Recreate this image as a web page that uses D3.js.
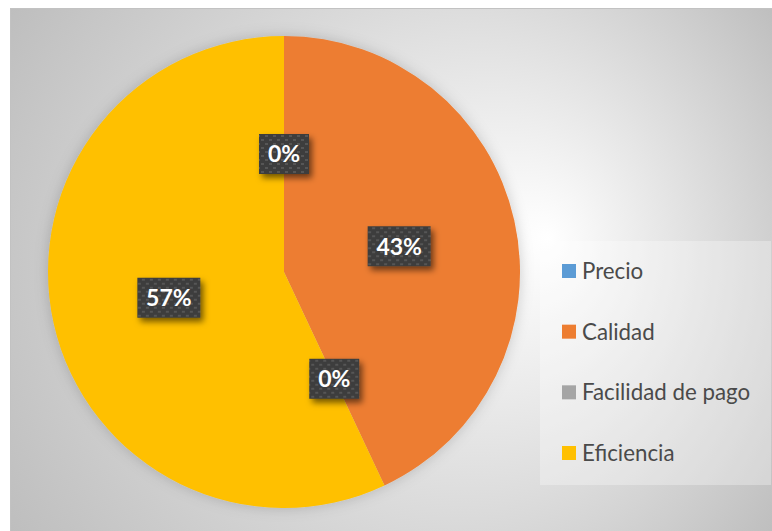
<!DOCTYPE html>
<html>
<head>
<meta charset="utf-8">
<script src="https://cdn.jsdelivr.net/npm/d3@7"></script>
<style>
  html, body { margin: 0; padding: 0; background: #ffffff; }
  svg { display: block; }
</style>
</head>
<body>
<svg id="chart" width="772" height="531"></svg>
<script>
// Survey result: share of answers per attribute
const categories = ["Precio", "Calidad", "Facilidad de pago", "Eficiencia"];
const values = [0, 43, 0, 57];
const colors = ["#5B9BD5", "#ED7D31", "#A5A5A5", "#FFC000"];

const W = 772, H = 531;
const svg = d3.select("#chart");
const defs = svg.append("defs");

// Background: radial gradient, bright spot right of the pie
const bg = defs.append("radialGradient")
  .attr("id", "bgGrad")
  .attr("gradientUnits", "userSpaceOnUse")
  .attr("cx", 391).attr("cy", 270).attr("r", 470)
  .attr("fx", 548).attr("fy", 238);
bg.append("stop").attr("offset", 0).attr("stop-color", "#ffffff");
bg.append("stop").attr("offset", 1).attr("stop-color", "#bdbdbd");

// Dotted dark fill for the value labels
const pat = defs.append("pattern")
  .attr("id", "dots")
  .attr("patternUnits", "userSpaceOnUse")
  .attr("width", 8).attr("height", 8);
pat.append("rect").attr("width", 8).attr("height", 8).attr("fill", "#3d3d3d");
pat.append("rect").attr("x", 1).attr("y", 1).attr("width", 3).attr("height", 2).attr("fill", "#565656");
pat.append("rect").attr("x", 5).attr("y", 5).attr("width", 3).attr("height", 2).attr("fill", "#565656");

// Soft drop shadow for label boxes
const sh = defs.append("filter").attr("id", "lblShadow")
  .attr("x", "-30%").attr("y", "-30%").attr("width", "170%").attr("height", "180%");
sh.append("feDropShadow").attr("dx", 3).attr("dy", 4).attr("stdDeviation", 3)
  .attr("flood-color", "#000").attr("flood-opacity", 0.55);

// Faint halo around the pie
const halo = defs.append("filter").attr("id", "pieHalo")
  .attr("x", "-20%").attr("y", "-20%").attr("width", "140%").attr("height", "140%");
halo.append("feDropShadow").attr("dx", 0).attr("dy", 0).attr("stdDeviation", 7)
  .attr("flood-color", "#000").attr("flood-opacity", 0.18);

// Chart area
svg.append("rect")
  .attr("x", 10.5).attr("y", 8.5).attr("width", W).attr("height", H)
  .attr("fill", "url(#bgGrad)")
  .attr("stroke", "#c2c2c2").attr("stroke-width", 1);

// Pie
const cx = 284, cy = 272, R = 236;
const pie = d3.pie().sort(null).value(d => d.value);
const arcs = pie(categories.map((c, i) => ({ name: c, value: values[i], color: colors[i] })));
const arc = d3.arc().innerRadius(0).outerRadius(R);
const labelArc = d3.arc().innerRadius(0).outerRadius(R);

const g = svg.append("g").attr("transform", `translate(${cx},${cy})`);
g.append("g").attr("filter", "url(#pieHalo)")
  .selectAll("path")
  .data(arcs)
  .join("path")
  .attr("d", arc)
  .attr("fill", d => d.data.color);

// Percentage labels
const total = d3.sum(values);
const fmt = v => Math.round(v / total * 100) + "%";
const lbl = g.selectAll("g.lbl")
  .data(arcs)
  .join("g")
  .attr("class", "lbl")
  .attr("transform", d => `translate(${labelArc.centroid(d)})`);

lbl.each(function(d) {
  const sel = d3.select(this);
  const t = fmt(d.data.value);
  const w = t.length > 2 ? 63 : 50, h = 40;
  sel.append("rect")
    .attr("x", -w / 2).attr("y", -h / 2)
    .attr("width", w).attr("height", h)
    .attr("fill", "url(#dots)")
    .attr("filter", "url(#lblShadow)");
  sel.append("text")
    .attr("text-anchor", "middle")
    .attr("dy", "0.36em")
    .attr("fill", "#ffffff")
    .attr("font-family", "Lato, 'Open Sans', sans-serif")
    .attr("font-weight", 700)
    .attr("font-size", 23)
    .text(t);
});

// Legend
const legend = svg.append("g");
legend.append("rect")
  .attr("x", 540).attr("y", 241).attr("width", 231).attr("height", 244)
  .attr("fill", "#ffffff").attr("fill-opacity", 0.3);

const rowY = d3.scalePoint().domain(categories).range([271, 453]);
const item = legend.selectAll("g.item")
  .data(categories)
  .join("g")
  .attr("class", "item")
  .attr("transform", d => `translate(562,${rowY(d)})`);
item.append("rect")
  .attr("x", 0).attr("y", -7).attr("width", 14).attr("height", 14)
  .attr("fill", (d, i) => colors[i]);
item.append("text")
  .attr("x", 20).attr("dy", "0.36em")
  .attr("fill", "#4a4a4a")
  .attr("font-family", "Lato, 'Open Sans', sans-serif")
  .attr("font-size", 22.3)
  .text(d => d);
</script>
</body>
</html>
